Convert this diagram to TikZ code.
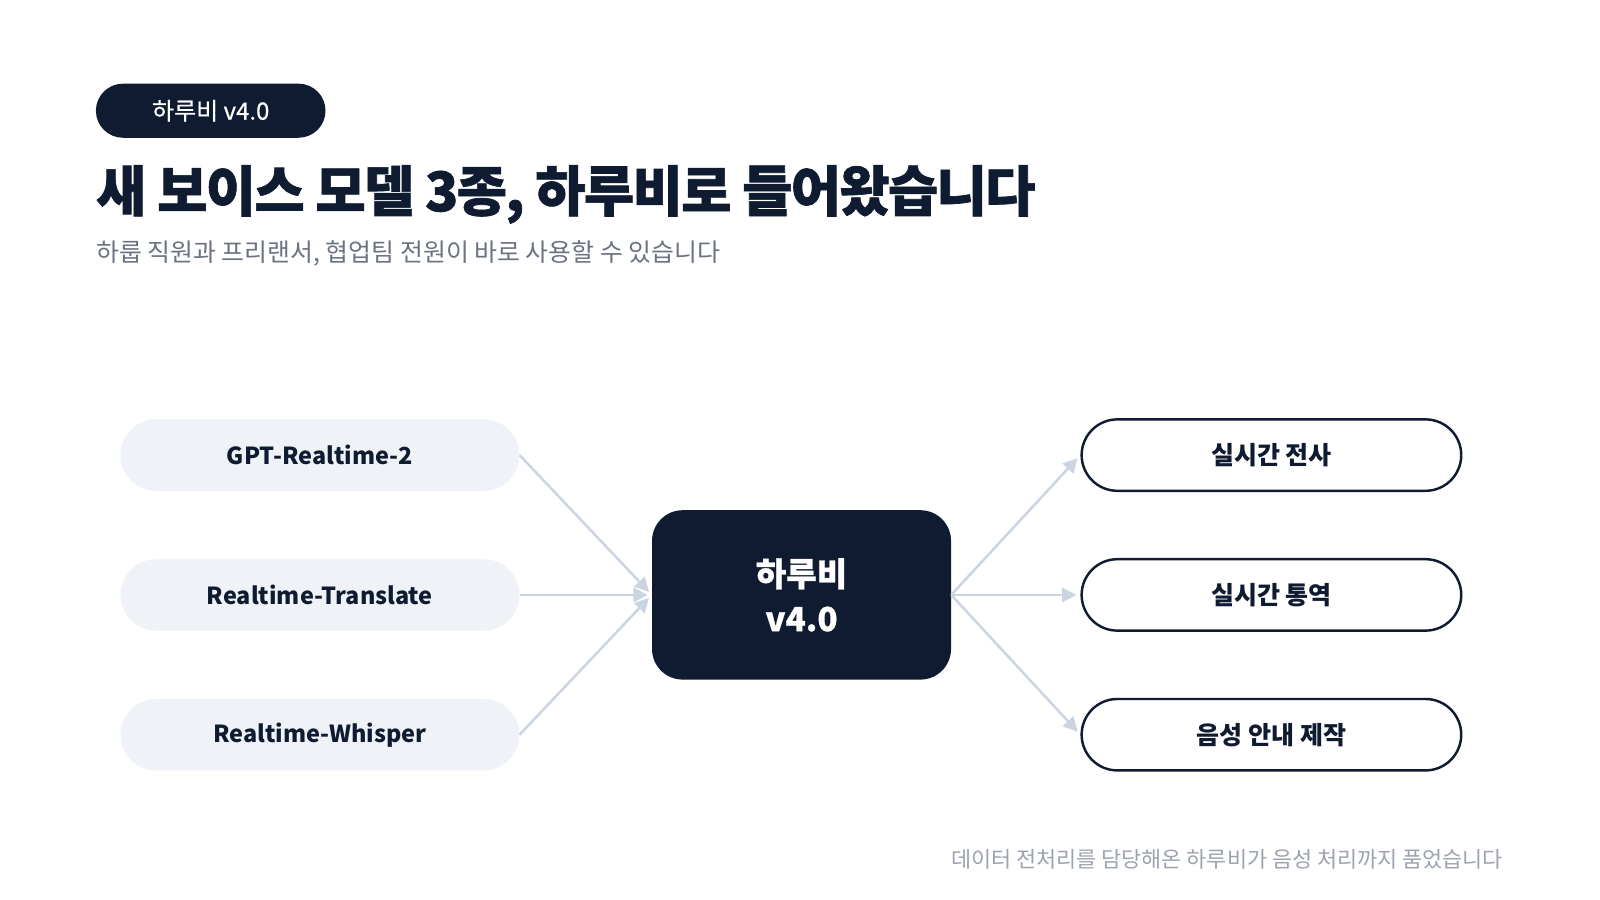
\documentclass[tikz,border=0pt]{standalone}
\usepackage{fontspec}
\usetikzlibrary{arrows.meta}
\setmainfont{Noto Sans CJK KR}
\newfontfamily\kr{Noto Sans CJK KR}
\newfontfamily\krtitle[LetterSpace=-3,BoldFeatures={FakeBold=1.2}]{Noto Sans CJK KR}
\newfontfamily\krheavy[BoldFeatures={FakeBold=0.8}]{Noto Sans CJK KR}
\newfontfamily\krmed[FakeBold=0.6]{Noto Sans CJK KR}
\definecolor{navy}{HTML}{0F1B30}
\definecolor{pillfill}{HTML}{EFF3F8}
\definecolor{arrowc}{HTML}{CBD5E1}
\definecolor{subgray}{HTML}{6B7280}
\definecolor{footgray}{HTML}{9CA3AF}
\tikzset{
  inpill/.style={rectangle, rounded corners=35pt, fill=pillfill, minimum width=391pt, minimum height=70pt, inner sep=0pt, text=navy, font=\kr\fontsize{23}{28}\selectfont\bfseries},
  outpill/.style={rectangle, rounded corners=35pt, fill=white, draw=navy, line width=2.4pt, minimum width=372pt, minimum height=70pt, inner sep=0pt, text=navy, font=\kr\fontsize{24.5}{28}\selectfont\bfseries},
  hub/.style={rectangle, rounded corners=30pt, fill=navy, minimum width=293pt, minimum height=166pt, inner sep=0pt, text=white, align=center, font=\krheavy\fontsize{32.5}{44}\selectfont\bfseries},
  link/.style={draw=arrowc, line width=2.4pt, -{Triangle[length=14pt,width=14pt]}},
}
\begin{document}
\begin{tikzpicture}[x=1pt,y=-1pt]
\useasboundingbox (0,0) rectangle (1568,882);
\fill[white] (0,0) rectangle (1568,882);
% badge
\node[rectangle, rounded corners=26.5pt, fill=navy, minimum width=225pt, minimum height=53pt, inner sep=0pt, text=white, font=\krmed\fontsize{23.5}{26}\selectfont] (badge) at (206.5,108.5) {하루비 v4.0};
% title
\node[anchor=base west, inner sep=0pt, text=navy, font=\krtitle\fontsize{53.5}{60}\selectfont\bfseries] (title) at (94,207) {새 보이스 모델 3종, 하루비로 들어왔습니다};
\node[anchor=base west, inner sep=0pt, text=subgray, font=\kr\fontsize{24.4}{28}\selectfont] (sub) at (94,256) {하룹 직원과 프리랜서, 협업팀 전원이 바로 사용할 수 있습니다};
% left pills
\node[inpill] (m1) at (313.5,446) {GPT-Realtime-2};
\node[inpill] (m2) at (313.5,583) {Realtime-Translate};
\node[inpill] (m3) at (313.5,720) {Realtime-Whisper};
% hub
\node[hub] (hub) at (785.5,583) {하루비\\v4.0};
% right pills
\node[outpill] (o1) at (1246,446) {실시간 전사};
\node[outpill] (o2) at (1246,583) {실시간 통역};
\node[outpill] (o3) at (1246,720) {음성 안내 제작};
% links
\draw[link, shorten >=4pt] (m1.east) -- (hub.west);
\draw[link, shorten >=4pt] (m2.east) -- (hub.west);
\draw[link, shorten >=4pt] (m3.east) -- (hub.west);
\draw[link, shorten >=4pt] (hub.east) -- (o1.west);
\draw[link, shorten >=4pt] (hub.east) -- (o2.west);
\draw[link, shorten >=4pt] (hub.east) -- (o3.west);
% footer
\node[anchor=base east, inner sep=0pt, text=footgray, font=\kr\fontsize{21.4}{24}\selectfont] (foot) at (1473,850) {데이터 전처리를 담당해온 하루비가 음성 처리까지 품었습니다};
\end{tikzpicture}
\end{document}
